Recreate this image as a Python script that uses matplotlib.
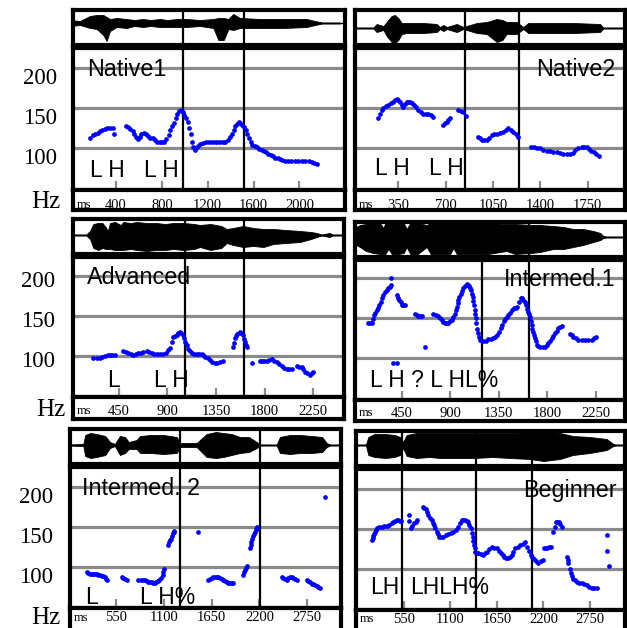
import numpy as np
import matplotlib.pyplot as plt

# ---------------- data ----------------
names = ["Native1", "Native2", "Advanced", "Intermed.1", "Intermed. 2", "Beginner"]
hz_labels = [200, 150, 100]

# F0 tracks: (time ms, Hz)
f0_native1 = [(175, 113), (195, 116), (215, 118), (240, 119), (260, 121), (280, 123), (300, 124), (325, 125),
              (350, 125), (370, 125), (385, 118),
              (487, 127), (505, 126), (525, 124), (545, 121), (560, 117), (575, 114), (590, 111), (605, 114),
              (620, 118), (640, 119), (660, 117), (680, 115), (700, 113), (720, 112), (740, 110), (760, 108),
              (780, 107), (800, 107), (820, 108), (840, 111), (860, 116), (875, 122), (890, 127), (905, 131),
              (920, 137), (935, 142), (950, 146), (965, 147), (980, 145), (995, 141), (1010, 138), (1025, 133),
              (1040, 125), (1050, 117), (1060, 108), (1070, 101), (1085, 97), (1100, 100), (1115, 103),
              (1135, 105), (1160, 106), (1185, 107), (1210, 107), (1235, 107), (1260, 107), (1285, 107),
              (1310, 107), (1335, 107), (1355, 108), (1375, 110), (1395, 114), (1410, 118), (1425, 123),
              (1440, 127), (1455, 130), (1470, 132), (1485, 131), (1500, 129), (1515, 126), (1530, 122),
              (1545, 117), (1560, 112), (1575, 107), (1590, 104), (1610, 103), (1630, 101), (1650, 99),
              (1670, 98), (1690, 96), (1710, 95), (1730, 93), (1750, 91), (1770, 90), (1790, 88), (1810, 87),
              (1830, 86), (1850, 85), (1870, 84), (1900, 84), (1930, 84), (1960, 84), (1990, 84), (2020, 84),
              (2050, 84), (2080, 84), (2110, 83), (2130, 81), (2150, 80)]
f0_native2 = [(202, 137), (214, 143), (227, 147), (239, 150), (257, 152), (276, 154), (295, 156), (313, 158),
              (326, 160), (338, 161), (350, 160), (362, 158), (375, 154), (387, 151), (400, 155), (412, 158),
              (424, 158), (436, 158), (451, 156), (466, 154), (482, 151), (498, 147.5), (516, 145), (535, 143),
              (553, 143), (572, 143), (590, 141), (609, 139),
              (683, 129), (696, 131), (708, 133), (720, 135), (732, 137),
              (794, 147.5), (812, 146), (831, 145), (850, 140),
              (937, 114), (952, 112), (967, 110), (985, 110), (1004, 110), (1022, 113), (1041, 116), (1060, 117),
              (1078, 118), (1102, 119), (1127, 120), (1145, 122), (1164, 124.6), (1182, 122), (1201, 120),
              (1220, 117), (1238, 114),
              (1329, 101.7), (1352, 101), (1375, 100), (1398, 99.6), (1423, 98), (1448, 96.7), (1472, 96),
              (1497, 95.5), (1522, 95.4), (1546, 94), (1571, 93), (1596, 93), (1620, 93), (1640, 94),
              (1660, 97), (1682, 99.6), (1705, 101), (1725, 101.7), (1744, 101.7), (1760, 99), (1778, 96),
              (1794, 95.4), (1815, 93), (1838, 90)]
f0_advanced = [(216, 96.7), (247, 96.7), (278, 96.7), (300, 98), (324, 100), (347, 100.8), (370, 100.8),
               (393, 100.8), (416, 100.8),
               (493, 106), (516, 105), (539, 103.7), (562, 102), (586, 100.8), (609, 102), (632, 103),
               (655, 104), (678, 105), (709, 106), (732, 104.5), (756, 103), (779, 102), (802, 101.7),
               (832, 101.7), (863, 101.7), (886, 104), (909, 107), (925, 110), (940, 117), (956, 124),
               (971, 125), (987, 126), (1003, 128), (1018, 130), (1030, 128), (1042, 126), (1053, 122),
               (1064, 117.5), (1079, 113), (1094, 109), (1110, 106), (1126, 103), (1149, 102), (1172, 101.7),
               (1195, 101.7), (1218, 101.7), (1234, 100.5), (1249, 99), (1272, 97), (1295, 94.6), (1318, 92.5),
               (1341, 91), (1364, 91.5), (1388, 92.5), (1418, 93.3),
               (1505, 111), (1515, 116), (1526, 121.7), (1537, 125), (1548, 127), (1560, 129), (1573, 130),
               (1585, 128), (1597, 126), (1608, 121), (1619, 117.5), (1627, 114), (1634, 111),
               (1686, 90.4),
               (1758, 93.3), (1778, 93.3), (1799, 93.3), (1819, 93.3), (1842, 94.5), (1866, 95.4), (1889, 94),
               (1912, 92.5), (1935, 89.5), (1958, 87), (1981, 85), (2005, 83), (2028, 83), (2051, 83),
               (2097, 87), (2120, 86), (2143, 85.4), (2159, 83), (2174, 80), (2197, 78), (2220, 75.8),
               (2240, 78), (2251, 80)]
f0_intermed1 = [(142, 143.7), (160, 143.7), (179, 143.7), (188, 149), (198, 154), (208, 157), (219, 160),
                (232, 163), (244, 166.7), (255, 171), (266, 175), (281, 179), (296, 183), (311, 185),
                (327, 187.5), (340, 189.5), (349, 191.7), (352, 200),
                (373, 94), (404, 94),
                (410, 179), (420, 176), (429, 173), (440, 170), (451, 166.7), (466, 166.7), (481, 166.7),
                (574, 156), (590, 154), (605, 153), (620, 153), (636, 153),
                (670, 114),
                (744, 156), (767, 154), (790, 153), (805, 150), (821, 148), (837, 145.5), (852, 143.7),
                (868, 143.7), (883, 143.7), (898, 146), (914, 148), (929, 152), (944, 156), (952, 160),
                (960, 164.6), (968, 169), (975, 173), (986, 177), (997, 181), (1009, 184), (1021, 187.5),
                (1037, 190), (1053, 193), (1065, 192), (1077, 190.4), (1085, 188), (1093, 185.4), (1100, 181),
                (1108, 177), (1114, 172), (1120, 166.7), (1125, 161), (1130, 156), (1135, 150), (1139, 143.7),
                (1146, 137), (1154, 131), (1165, 127), (1176, 123), (1192, 122), (1207, 121), (1230, 122),
                (1253, 123.7), (1276, 124.5), (1299, 125), (1318, 127), (1336, 129), (1352, 133),
                (1367, 137.5), (1383, 142), (1398, 146), (1411, 149), (1423, 152), (1438, 154.5), (1454, 157),
                (1472, 160), (1491, 162.5), (1507, 163.5), (1522, 164.6), (1538, 170), (1553, 176),
                (1565, 175), (1577, 173), (1590, 170), (1602, 166.7), (1612, 162), (1623, 158), (1631, 155),
                (1639, 152), (1647, 147), (1654, 141.7), (1662, 137), (1670, 133), (1677, 129), (1685, 125),
                (1693, 121), (1701, 116.7), (1716, 115), (1731, 114.6), (1755, 114.6), (1778, 114.6),
                (1793, 116.5), (1808, 118.7), (1824, 122), (1840, 125), (1855, 128), (1870, 131), (1886, 134),
                (1901, 137.5), (1916, 139), (1932, 140.4),
                (2009, 130.4), (2024, 128.5), (2040, 127), (2063, 125), (2086, 123), (2117, 123), (2148, 123),
                (2179, 123), (2210, 123), (2230, 125), (2250, 127)]
f0_intermed2 = [(217, 93.7), (236, 92), (255, 91), (274, 91), (293, 91), (312, 91), (331, 90.5), (351, 90),
                (370, 89.6), (389, 89), (408, 88.5), (427, 87.5), (437, 85), (447, 83.3),
                (619, 87.5), (638, 86.5), (657, 85), (676, 84),
                (809, 83.3), (835, 83.3), (860, 83.3), (886, 83.3), (905, 82.5), (925, 81.5), (944, 81),
                (963, 80.5), (982, 80), (1001, 80), (1018, 81), (1034, 82.5), (1051, 84), (1070, 86.5),
                (1089, 89.6), (1097, 93), (1104, 96.7),
                (1154, 127), (1163, 131), (1172, 133), (1182, 135), (1193, 138), (1205, 141.7), (1214, 143.5),
                (1223, 145),
                (1498, 143.7),
                (1613, 83.3), (1633, 85), (1652, 86.5), (1671, 87.5), (1690, 87), (1709, 86.7), (1728, 86.7),
                (1748, 85.5), (1767, 84.5), (1786, 83.3), (1805, 82), (1824, 81), (1843, 80), (1862, 80),
                (1881, 80), (1900, 80),
                (2008, 89.6), (2021, 93), (2034, 96), (2044, 98.5), (2053, 100.8), (2092, 123), (2098, 127),
                (2103, 131), (2117, 135), (2130, 138), (2140, 141), (2149, 143.7), (2159, 147), (2169, 150),
                (2176, 146.7),
                (2456, 87.5), (2475, 86), (2494, 85), (2513, 84), (2532, 85.5), (2552, 87), (2571, 87.5),
                (2590, 86.5), (2609, 85), (2628, 84),
                (2743, 84), (2762, 82), (2781, 80.5), (2800, 79), (2820, 78), (2839, 77), (2858, 76),
                (2877, 74.5), (2896, 73),
                (2953, 186.7)]
f0_beginner = [(168, 136), (178, 138.5), (187, 141), (197, 144), (207, 146.7), (220, 149), (234, 151),
               (260, 152), (286, 153), (316, 153.5), (345, 153.7), (375, 155), (405, 157), (425, 159),
               (444, 160.4), (464, 161), (483, 161), (499, 160.5), (515, 160),
               (609, 167.5), (609, 160), (630, 151), (650, 154), (669, 157), (688, 159), (708, 161),
               (771, 177), (791, 176), (811, 174.6), (825, 171), (838, 167.5), (858, 164), (878, 161),
               (894, 158), (909, 155), (923, 151), (937, 146.7), (952, 143.5), (968, 140.4), (992, 140.4),
               (1016, 140.4), (1046, 142), (1075, 143.7), (1105, 145), (1134, 146.7), (1164, 149), (1193, 152),
               (1213, 157), (1233, 161), (1252, 161), (1272, 161), (1292, 160), (1311, 159), (1325, 155),
               (1339, 151), (1351, 145), (1363, 140.4), (1371, 135), (1379, 130), (1387, 126), (1395, 121.7),
               (1412, 120.5), (1430, 119.6), (1460, 118.5), (1489, 117.5), (1509, 119.5), (1529, 121.7),
               (1559, 124.5), (1588, 127), (1618, 126.5), (1647, 125.8), (1671, 123), (1694, 120.4),
               (1716, 117.5), (1737, 114.6), (1761, 114), (1785, 113.3), (1805, 115.5), (1824, 117.5),
               (1844, 121.5), (1864, 125.8), (1894, 128), (1923, 130), (1953, 131.5), (1982, 133.3),
               (2009, 128), (2029, 122.5), (2049, 117.5), (2069, 114.5), (2089, 112), (2115, 110), (2140, 108),
               (2166, 109.5), (2191, 111),
               (2210, 126.7), (2228, 126.2), (2246, 125.8), (2266, 127), (2286, 128),
               (2317, 146.7), (2333, 153), (2349, 159), (2365, 159), (2381, 159), (2398, 156), (2416, 153),
               (2476, 114.6), (2486, 111), (2495, 107), (2509, 100.5), (2523, 94.6), (2538, 91), (2554, 88),
               (2578, 86), (2601, 84), (2627, 83), (2653, 82), (2683, 81), (2712, 80), (2742, 78), (2771, 75.8),
               (2800, 75.8), (2830, 75.8),
               (2949, 142.5), (2949, 123), (2980, 103.7)]

# waveform envelopes: (time ms, extent above baseline, extent below baseline) in pixels
wave_native1 = [(0, 3, 3), (85, 2, 2), (173, 7, 5), (231, 8, 6), (289, 8, 12), (318, 6, 18), (347, 4, 8),
                (405, 5, 4), (493, 4, 5), (560, 3, 3), (638, 4, 4), (700, 3, 3), (784, 4, 4), (850, 3, 4),
                (929, 4, 4), (1016, 4, 4), (1132, 3, 3), (1249, 4, 5), (1293, 5, 17), (1340, 5, 17),
                (1380, 4, 6), (1423, 9, 7), (1482, 5, 5), (1656, 4, 5), (1860, 4, 5), (2064, 4, 4),
                (2136, 2, 2), (2200, 0.5, 0.5), (2354, 0.5, 0.5)]
wave_native2 = [(0, 0.5, 0.5), (165, 0.5, 0.5), (190, 4, 4), (214, 3, 3), (240, 2, 2), (264, 6, 8),
                (300, 12, 14), (325, 13, 15), (350, 10, 12), (375, 5, 6), (412, 5, 5), (535, 5, 5), (634, 4, 4),
                (658, 1, 1), (683, 3, 3), (708, 1, 1), (782, 4, 4), (831, 1, 1), (930, 5, 5), (1004, 6, 6),
                (1078, 9, 14), (1120, 8, 12), (1151, 6, 6), (1225, 6, 6), (1274, 1, 1), (1311, 5, 5),
                (1644, 5, 5), (1842, 4, 4), (1866, 0.5, 0.5), (2030, 0.5, 0.5)]
wave_advanced = [(0, 0.5, 0.5), (150, 0.5, 0.5), (185, 4, 4), (216, 11, 13), (260, 12, 15), (300, 12, 13),
                 (330, 8, 14), (350, 4, 14), (370, 12, 14), (416, 13, 15), (470, 10, 15), (493, 13, 15),
                 (560, 12, 14), (620, 13, 15), (709, 12, 16), (800, 12, 15), (880, 11, 15), (956, 12, 14),
                 (1050, 12, 15), (1150, 11, 14), (1202, 10, 12), (1300, 11, 15), (1400, 9, 13), (1449, 6, 8),
                 (1511, 7, 10), (1600, 9, 12), (1696, 7, 11), (1790, 6, 12), (1881, 6, 9), (2000, 5, 8),
                 (2128, 4, 7), (2230, 3, 4), (2282, 2, 2), (2330, 0.5, 0.5), (2400, 2, 2), (2430, 0.5, 0.5),
                 (2540, 0.5, 0.5)]
wave_intermed1 = [(0, 6, 8), (30, 10, 8), (65, 12, 10), (120, 13, 14), (188, 14, 16), (250, 14, 17),
                  (281, 9, 17), (300, 14, 17), (327, 14, 12), (360, 14, 17), (420, 14, 17), (470, 14, 16),
                  (497, 8, 10), (530, 14, 17), (600, 14, 17), (682, 12, 10), (720, 14, 17), (800, 14, 17),
                  (900, 14, 17), (929, 14, 11), (960, 14, 17), (1100, 14, 17), (1250, 14, 17), (1423, 13, 14),
                  (1500, 13, 17), (1650, 12, 16), (1731, 12, 15), (1855, 11, 12), (1950, 10, 12), (2040, 8, 10),
                  (2130, 8, 8), (2225, 6, 5), (2290, 4, 3), (2318, 1, 1), (2349, 0.5, 0.5), (2510, 0.5, 0.5)]
wave_intermed2 = [(0, 0.5, 0.5), (178, 1, 1), (200, 10, 11), (260, 12, 13), (331, 11, 12), (430, 9, 10),
                  (484, 3, 3), (540, 1, 1), (599, 9, 10), (657, 8, 8), (700, 3, 4), (790, 5, 4), (830, 9, 8),
                  (950, 10, 8), (1100, 10, 9), (1250, 8, 8), (1290, 2, 2), (1479, 2, 2), (1594, 11, 12),
                  (1700, 13, 13), (1786, 12, 12), (1880, 11, 10), (1977, 8, 8), (2080, 8, 7), (2168, 3, 3),
                  (2207, 0.5, 0.5), (2398, 0.5, 0.5), (2436, 8, 8), (2550, 10, 9), (2666, 10, 8), (2800, 9, 8),
                  (2920, 8, 7), (2972, 2, 2), (3010, 0.5, 0.5), (3140, 0.5, 0.5)]
wave_beginner = [(-20, 0.5, 0.5), (100, 0.5, 0.5), (128, 8, 10), (200, 11, 12), (330, 11, 13), (440, 10, 12),
                 (503, 8, 10), (540, 3, 3), (582, 10, 11), (700, 12, 13), (850, 12, 12), (976, 12, 13),
                 (1150, 12, 13), (1371, 12, 13), (1600, 12, 12), (1800, 12, 13), (2041, 13, 14), (2200, 14, 16),
                 (2396, 12, 14), (2550, 9, 10), (2750, 8, 8), (2949, 6, 5), (3028, 1, 1), (3060, 0.5, 0.5),
                 (3170, 0.5, 0.5)]

# segment boundaries (ms)
bounds_native1 = [982, 1519]
bounds_native2 = [845, 1240]
bounds_advanced = [1064, 1612]
bounds_intermed1 = [1191, 1633]
bounds_intermed2 = [1288, 2207]
bounds_beginner = [523, 1402, 2061]

# time axis ticks (ms)
ticks_native1 = [400, 800, 1200, 1600, 2000]
ticks_native2 = [350, 700, 1050, 1400, 1750]
ticks_advanced = [450, 900, 1350, 1800, 2250]
ticks_intermed1 = [450, 900, 1350, 1800, 2250]
ticks_intermed2 = [550, 1100, 1650, 2200, 2750]
ticks_beginner = [550, 1100, 1650, 2200, 2750]

# tone labels: (text, ms of left edge)
tones_native1 = [("L H", 173), ("L H", 644)]
tones_native2 = [("L H", 178), ("L H", 579)]
tones_advanced = [("L", 339), ("L H", 777)]
tones_intermed1 = [("L H ? L HL%", 157)]
tones_intermed2 = [("L", 197), ("L H%", 829)]
tones_beginner = [("LH", 148), ("LHLH%", 621)]

f0s = [f0_native1, f0_native2, f0_advanced, f0_intermed1, f0_intermed2, f0_beginner]
waves = [wave_native1, wave_native2, wave_advanced, wave_intermed1, wave_intermed2, wave_beginner]
bounds = [bounds_native1, bounds_native2, bounds_advanced, bounds_intermed1, bounds_intermed2, bounds_beginner]
ticks = [ticks_native1, ticks_native2, ticks_advanced, ticks_intermed1, ticks_intermed2, ticks_beginner]
tones = [tones_native1, tones_native2, tones_advanced, tones_intermed1, tones_intermed2, tones_beginner]

# ---------------- layout (pixels, y measured from top) ----------------
W, H = 627, 628
# x0, x1, top, wave/pitch split, pitch/time split, bottom, y of 200 Hz, x of 0 ms, px per ms, wave baseline
layout = [(73, 344.5, 10, 46, 190, 210, 68, 70.2, 0.1146, 23),
          (355, 624.5, 10, 46, 190, 210, 68, 351, 0.1352, 28),
          (73, 344, 219, 255, 397, 419, 275.7, 70, 0.1081, 235),
          (355, 624.5, 222, 258, 400, 421, 278.3, 353, 0.108, 237),
          (70, 341, 429, 465, 608, 630, 486.7, 67.8, 0.0871, 445),
          (356, 624.5, 431, 467, 610, 632, 489, 357.5, 0.0845, 445)]
# vertical centre of the time-strip numbers (px)
time_text_y = [204, 204, 410, 412, 616, 618]
# name label: (ms, alignment); tone label baseline (Hz)
name_pos = [(147, "left"), (1953, "right"), (160, "left"), (2426, "right"), (160, "left"), (3067, "right")]
tone_base = [64, 66, 61, 64.5, 53, 69]
HZ_PER_PX = 1.25

SANS = "Liberation Sans"
SERIF = "Liberation Serif"
GRID = "#8a8a8a"
BLUE = "#0000ff"


def rect(x0, x1, y0, y1):
    return [x0 / W, 1 - y1 / H, (x1 - x0) / W, (y1 - y0) / H]


def frame(ax):
    ax.set_xticks([])
    ax.set_yticks([])
    for s in ax.spines.values():
        s.set_linewidth(3)
        s.set_color("black")


fig = plt.figure(figsize=(W / 100, H / 100), dpi=100)

for i in range(6):
    x0, x1, ytop, yws, ypt, ybot, g200, xz, xs, wc = layout[i]
    xlim = ((x0 - xz) / xs, (x1 - xz) / xs)

    # waveform strip
    axw = fig.add_axes(rect(x0, x1, ytop, yws - 1.5))
    w = np.array(waves[i], dtype=float)
    axw.fill_between(w[:, 0], w[:, 1], -w[:, 2], color="black", lw=0.6)
    axw.axhline(0, color="black", lw=1)
    for b in bounds[i]:
        axw.axvline(b, color="black", lw=1.6)
    axw.set_xlim(xlim)
    axw.set_ylim(-(yws - 1.5 - wc), wc - ytop)
    frame(axw)

    # pitch area
    ptop = yws + 1.5
    axp = fig.add_axes(rect(x0, x1, ptop, ypt))
    ylo = 200 - (ypt - g200) * HZ_PER_PX
    yhi = 200 + (g200 - ptop) * HZ_PER_PX
    for v in hz_labels:
        axp.axhline(v, color=GRID, lw=2.3, zorder=1)
    axp.vlines(ticks[i], ylo, ylo + 11, color=GRID, lw=1.6, zorder=1)
    for b in bounds[i]:
        axp.axvline(b, color="black", lw=1.6, zorder=2)
    f = np.array(f0s[i], dtype=float)
    axp.plot(f[:, 0], f[:, 1], "o", color=BLUE, ms=3.4, mew=0, zorder=3)
    nx, nha = name_pos[i]
    axp.text(nx, 190, names[i], ha=nha, va="baseline", fontsize=16.8, family=SANS, zorder=4)
    for txt, tx in tones[i]:
        axp.text(tx, tone_base[i], txt, ha="left", va="baseline", fontsize=16.5, family=SANS, zorder=4)
    axp.set_xlim(xlim)
    axp.set_ylim(ylo, yhi)
    frame(axp)

    # time strip
    axt = fig.add_axes(rect(x0, x1, ypt, ybot))
    axt.set_xlim(xlim)
    axt.set_ylim(0, 1)
    ty = (ybot - time_text_y[i]) / (ybot - ypt)
    tr = axt.get_xaxis_transform()
    axt.text(xlim[0] + 3.5 / xs, ty, "ms", ha="left", va="center_baseline", fontsize=9,
             family=SERIF, transform=tr, clip_on=True)
    for t in ticks[i]:
        axt.text(t, ty, str(t), ha="center", va="center_baseline", fontsize=10.5,
                 family=SERIF, transform=tr, clip_on=True)
    frame(axt)

# Hz scale at the left of each row: (y of 200 Hz, right edge, text offset, Hz right edge, Hz y)
rows = [(68, 57, 7.5, 60, 200), (275.7, 55, 3.5, 65, 408), (486.7, 53, 8, 60, 615)]
for g200, xr, off, hzr, hzy in rows:
    for v in hz_labels:
        y = g200 + (200 - v) / HZ_PER_PX + off
        fig.text(xr / W, 1 - y / H, str(v), ha="right", va="center_baseline", fontsize=16.5, family=SERIF)
    fig.text(hzr / W, 1 - hzy / H, "Hz", ha="right", va="center_baseline", fontsize=18, family=SERIF)

fig.savefig("out.png", dpi=100)
